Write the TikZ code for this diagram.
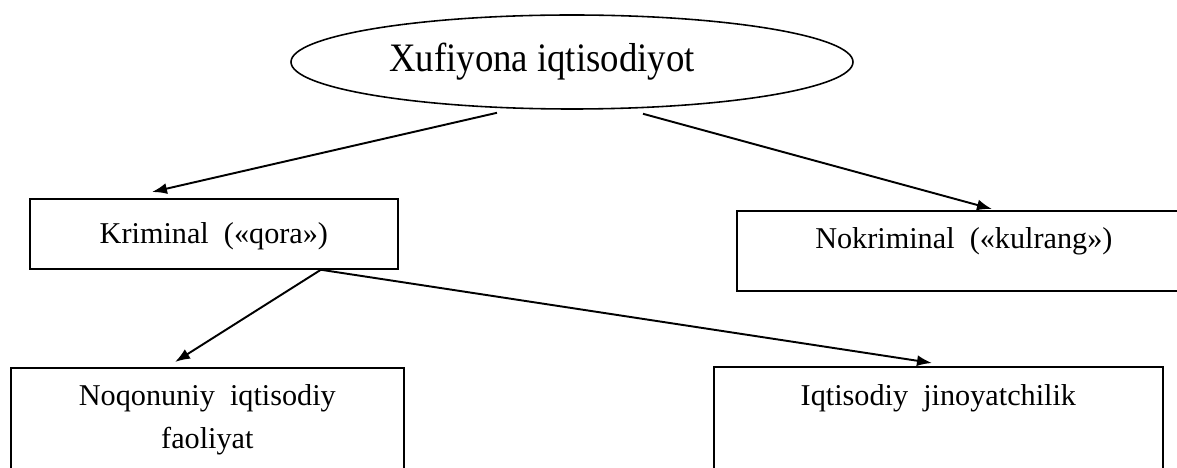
\documentclass[tikz,border=0pt]{standalone}
\usepackage{fontspec}
\setmainfont{Liberation Serif}
\newfontfamily\topfont{Liberation Serif}[FakeStretch=0.91]
\usepackage{tikz}
\usetikzlibrary{arrows.meta}
\usetikzlibrary{positioning,shapes.geometric}
\tikzset{
    topnode/.style={
        draw,
        ellipse,
        line width=0.9pt,
        inner sep=0pt,
        minimum width=11.24cm,
        minimum height=1.88cm,
        font=\topfont\fontsize{23}{27}\selectfont
    },
    blk/.style={
        draw,
        rectangle,
        line width=1pt,
        inner sep=0pt,
        anchor=north west,
        font=\fontsize{17.2}{24}\selectfont
    },
    link/.style={
        draw,
        -{Latex[length=3mm, width=2.2mm]},
        line width=1.1pt
    }
}

\begin{document}
\begin{tikzpicture}
    \path[use as bounding box, clip] (0,0) rectangle (23.54,-9.36);

    % Top
    \node[topnode] (top) at (11.44,-1.24) {Xufiyona iqtisodiyot\hspace*{1.2cm}};

    % Second level
    \node[blk, minimum width=7.36cm, text height=0.9cm, text depth=0.5cm] (krim) at (0.58,-3.96) {Kriminal \ («qora»)};
    \node[blk, minimum width=9.08cm, text height=0.76cm, text depth=0.84cm] (nokrim) at (14.72,-4.2) {Nokriminal \ («kulrang»)};

    % Third level (cut off at the bottom)
    \node[blk, minimum width=7.86cm, text height=0.76cm, text depth=1.9cm] (noq) at (0.2,-7.34)
        {\begin{tabular}[t]{@{}c@{}}Noqonuniy \ iqtisodiy\\faoliyat\end{tabular}};
    \node[blk, minimum width=8.98cm, text height=0.78cm, text depth=1.9cm] (iqt) at (14.26,-7.32) {Iqtisodiy \ jinoyatchilik};

    % Arrows
    \coordinate (kbot) at ([xshift=2.14cm]krim.south);
    \draw[link] ([xshift=-1.5cm, yshift=-0.06cm]top.south) -- ([xshift=2.46cm, yshift=0.12cm]krim.north west);
    \draw[link] ([xshift=1.42cm, yshift=-0.08cm]top.south) -- ([xshift=5.12cm, yshift=0.02cm]nokrim.north west);
    \draw[link] (kbot) -- ([xshift=3.3cm, yshift=0.1cm]noq.north west);
    \draw[link] (kbot) -- ([xshift=4.38cm, yshift=0.06cm]iqt.north west);
\end{tikzpicture}
\end{document}
